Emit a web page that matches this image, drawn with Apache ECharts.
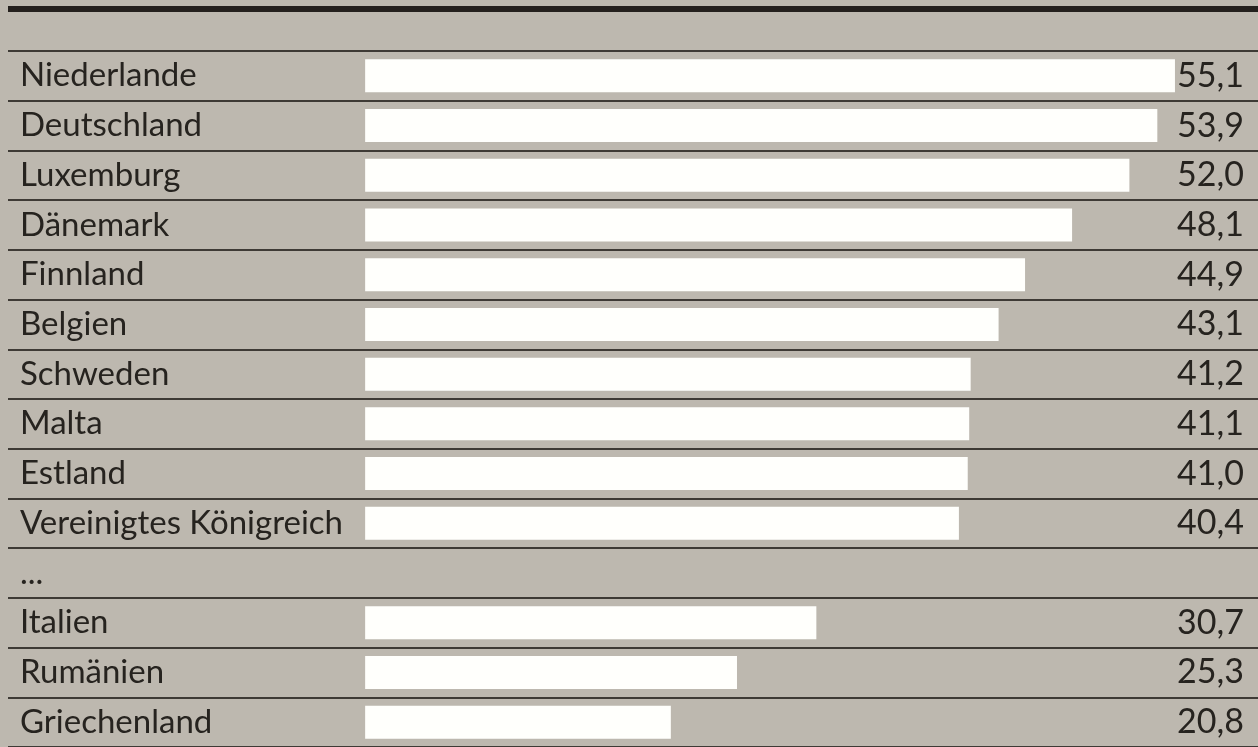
<!DOCTYPE html>
<html>
<head>
<meta charset="utf-8">
<script src="https://cdn.jsdelivr.net/npm/echarts@6/dist/echarts.min.js"></script>
<style>
html,body{margin:0;padding:0;background:#bdb8af;}
#c{width:1258px;height:747px;}
</style>
</head>
<body>
<div id="c"></div>
<script>
const countries = ['Niederlande','Deutschland','Luxemburg','Dänemark','Finnland','Belgien','Schweden','Malta','Estland','Vereinigtes Königreich','...','Italien','Rumänien','Griechenland'];
const values = [55.1, 53.9, 52.0, 48.1, 44.9, 43.1, 41.2, 41.1, 41.0, 40.4, null, 30.7, 25.3, 20.8];
const valueLabels = values.map(v => v == null ? '' : v.toFixed(1).replace('.', ','));

const FONT = 'Lato';
const chart = echarts.init(document.getElementById('c'), null, {renderer:'canvas'});
chart.setOption({
  backgroundColor: '#bdb8af',
  animation: false,
  graphic: [{
    type: 'rect', left: 8, top: 6, shape: {width: 1250, height: 6},
    style: {fill: '#24201d'}
  }],
  grid: {left: 8, right: 0, top: 51, height: 699, containLabel: false},
  xAxis: {
    type: 'value', min: -24.3, max: 60.75,
    show: false
  },
  yAxis: [{
    type: 'category', data: countries, inverse: true, position: 'left',
    axisLine: {show: false}, axisTick: {show: false},
    splitLine: {show: true, lineStyle: {color: '#3e3a35', width: 2}},
    axisLabel: {inside: true, margin: 12, color: '#26231f', fontFamily: FONT, fontSize: 33, align: 'left', padding: [6, 0, 0, 0]}
  }, {
    type: 'category', data: valueLabels, inverse: true, position: 'right',
    axisLine: {show: false}, axisTick: {show: false}, splitLine: {show: false},
    axisLabel: {inside: true, margin: 14, color: '#26231f', fontFamily: FONT, fontSize: 34, align: 'right', padding: [6, 0, 0, 0]}
  }],
  series: [{
    type: 'bar', data: values, barWidth: 33,
    itemStyle: {color: '#fffffc'},
    silent: true
  }]
});
</script>
</body>
</html>
